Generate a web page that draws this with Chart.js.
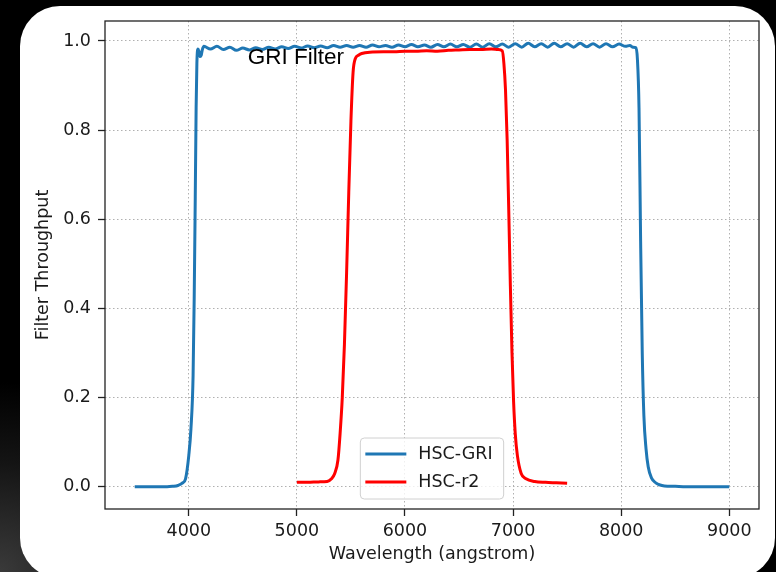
<!DOCTYPE html>
<html>
<head>
<meta charset="utf-8">
<script src="https://cdn.jsdelivr.net/npm/chart.js@4.4.1/dist/chart.umd.min.js"></script>
<style>
html, body { margin: 0; padding: 0; width: 776px; height: 572px; overflow: hidden; }
body { position: relative; background: radial-gradient(circle at 0 100%, #3a3a3a 0px, #141414 110px, #000 190px); }
#card { position: absolute; left: 20px; top: 6px; width: 755px; height: 572px; background: #fff; border-radius: 40px; }
#myChart { position: absolute; left: 0; top: 0; }
</style>
</head>
<body>
<div id="card"></div>
<canvas id="myChart" width="776" height="572"></canvas>
<script>
// HSC-GRI filter curve (wavelength in angstrom, throughput)
const griWave = [3500, 3600, 3700, 3800, 3850, 3900, 3940, 3970, 4000, 4020, 4040, 4050, 4060, 4068, 4075, 4085, 4095, 4105, 4115, 4125,
	4140, 4200, 4260, 4320, 4380, 4440, 4500, 4560, 4620, 4680, 4740, 4800, 4860, 4920, 4980, 5040, 5100, 5160, 5220, 5280,
	5340, 5400, 5460, 5520, 5580, 5640, 5700, 5760, 5820, 5880, 5940, 6000, 6060, 6120, 6180, 6240, 6300, 6360, 6420, 6480,
	6540, 6600, 6660, 6720, 6780, 6840, 6900, 6960, 7020, 7080, 7140, 7200, 7260, 7320, 7380, 7440, 7500, 7560, 7620, 7680,
	7740, 7800, 7860, 7920, 7980, 8040, 8080, 8110, 8135,
	8150, 8165, 8180, 8195, 8210, 8230, 8250, 8280, 8320, 8360, 8400, 8500, 8600, 8700, 8800, 8900, 9000]
const griThru = [0, 0, 0, 0, 0.001, 0.003, 0.008, 0.018, 0.07, 0.13, 0.25, 0.42, 0.65, 0.85, 0.95, 0.982, 0.976, 0.965, 0.968, 0.98,
	0.988, 0.982, 0.988, 0.981, 0.986, 0.979, 0.984, 0.98, 0.985, 0.981, 0.986, 0.982, 0.987, 0.983, 0.988, 0.984, 0.989, 0.985, 0.989, 0.985,
	0.99, 0.986, 0.99, 0.986, 0.99, 0.986, 0.991, 0.987, 0.99, 0.986, 0.991, 0.987, 0.992, 0.987, 0.991, 0.986, 0.992, 0.987, 0.993, 0.987,
	0.992, 0.986, 0.993, 0.986, 0.994, 0.987, 0.993, 0.986, 0.994, 0.986, 0.995, 0.987, 0.994, 0.986, 0.995, 0.987, 0.994, 0.986, 0.995, 0.987,
	0.994, 0.986, 0.994, 0.987, 0.993, 0.988, 0.99, 0.986, 0.985,
	0.96, 0.85, 0.55, 0.3, 0.16, 0.085, 0.045, 0.02, 0.009, 0.004, 0.002, 0.001, 0, 0, 0, 0, 0]

// HSC-r2 filter curve
const r2Wave = [5000, 5100, 5200, 5280, 5320, 5350, 5380, 5400, 5420, 5440, 5460, 5480, 5500, 5520, 5540, 5570, 5600, 5700, 5800, 5900, 6000,
	6100, 6200, 6300, 6400, 6500, 6600, 6700, 6800, 6860, 6900, 6915, 6930, 6945, 6960, 6975, 6990, 7005, 7020, 7040, 7075,
	7120, 7200, 7300, 7400, 7500]
const r2Thru = [0.01, 0.01, 0.011, 0.012, 0.018, 0.03, 0.06, 0.12, 0.2, 0.32, 0.48, 0.66, 0.82, 0.93, 0.96, 0.968, 0.972, 0.975, 0.976, 0.976, 0.977,
	0.977, 0.978, 0.977, 0.979, 0.98, 0.981, 0.981, 0.982, 0.981, 0.978, 0.95, 0.89, 0.78, 0.62, 0.45, 0.3, 0.19, 0.12, 0.07, 0.03,
	0.018, 0.012, 0.01, 0.009, 0.008]

const seriesLabels = ["HSC-GRI", "HSC-r2"]
const xTicks = [4000, 5000, 6000, 7000, 8000, 9000]
const yTicks = [0, 0.2, 0.4, 0.6, 0.8, 1.0]
const noteText = "GRI Filter"
const noteX = 4545
const noteY = 0.948

const tickFont = { family: "DejaVu Sans", size: 17.5 }
const ink = "#1a1a1a"

// frame, text note and legend box drawn on top of the lines
const overlay = {
	id: "overlay",
	afterDatasetsDraw: chart => {
		const ctx = chart.ctx
		const { left, top, right, bottom } = chart.chartArea
		const xs = chart.scales.x
		const ys = chart.scales.y
		ctx.save()
		ctx.strokeStyle = "#222"
		ctx.lineWidth = 1.3
		ctx.strokeRect(left, top, right - left, bottom - top)

		ctx.fillStyle = "#000"
		ctx.font = '22.5px "Liberation Sans"'
		ctx.textBaseline = "alphabetic"
		ctx.textAlign = "left"
		ctx.fillText(noteText, xs.getPixelForValue(noteX), ys.getPixelForValue(noteY))

		// legend, lower center
		ctx.font = '17.5px "DejaVu Sans"'
		const sets = chart.data.datasets
		const textW = Math.max(...sets.map(d => ctx.measureText(d.label).width))
		const w = 5 + 41 + 12 + textW + 11
		const h = 61
		const bx = (left + right) / 2 - w / 2
		const by = bottom - 10 - h
		ctx.beginPath()
		ctx.roundRect(bx, by, w, h, 4)
		ctx.fillStyle = "rgba(255,255,255,0.8)"
		ctx.fill()
		ctx.strokeStyle = "#d0d0d0"
		ctx.lineWidth = 1
		ctx.stroke()
		sets.forEach((d, i) => {
			const ry = by + 16 + i * 28
			ctx.beginPath()
			ctx.moveTo(bx + 5, ry)
			ctx.lineTo(bx + 46, ry)
			ctx.strokeStyle = d.borderColor
			ctx.lineWidth = 3
			ctx.stroke()
			ctx.fillStyle = ink
			ctx.textBaseline = "middle"
			ctx.fillText(d.label, bx + 58, ry)
		})
		ctx.restore()
	},
}

const chart = document.querySelector("#myChart").getContext("2d")

const myChart = new Chart(chart, {
	type: "line",
	data: {
		datasets: [
			{
				label: seriesLabels[0],
				data: griWave.map((w, i) => ({ x: w, y: griThru[i] })),
				borderColor: "#1f77b4",
				borderWidth: 3,
				pointRadius: 0,
				cubicInterpolationMode: "monotone",
				order: 1,
			},
			{
				label: seriesLabels[1],
				data: r2Wave.map((w, i) => ({ x: w, y: r2Thru[i] })),
				borderColor: "#ff0000",
				borderWidth: 3,
				pointRadius: 0,
				cubicInterpolationMode: "monotone",
				order: 0,
			},
		],
	},
	options: {
		responsive: false,
		animation: false,
		devicePixelRatio: 1,
		layout: { padding: { top: 21, right: 17, left: 0, bottom: 0 } },
		plugins: {
			legend: { display: false },
			tooltip: { enabled: false },
		},
		scales: {
			x: {
				type: "linear",
				min: 3225,
				max: 9275,
				afterBuildTicks: s => { s.ticks = xTicks.map(v => ({ value: v })) },
				afterFit: s => { s.height = 63 },
				ticks: { font: tickFont, color: ink, padding: 5, maxRotation: 0, callback: v => String(v) },
				grid: { color: "#b0b0b0", lineWidth: 1, tickLength: 7, tickColor: "#222", tickWidth: 1.3 },
				border: { display: false, dash: [1.5, 2.5] },
				title: { display: true, text: "Wavelength (angstrom)", font: tickFont, color: ink, padding: { top: 0, bottom: 7.5 } },
			},
			y: {
				type: "linear",
				min: -0.0498,
				max: 1.0448,
				afterBuildTicks: s => { s.ticks = yTicks.map(v => ({ value: v })) },
				afterFit: s => { s.width = 105 },
				ticks: { font: tickFont, color: ink, padding: 7, callback: v => v.toFixed(1) },
				grid: { color: "#b0b0b0", lineWidth: 1, tickLength: 7, tickColor: "#222", tickWidth: 1.3 },
				border: { display: false, dash: [1.5, 2.5] },
				title: { display: true, text: "Filter Throughput", font: tickFont, color: ink, padding: { top: 33, bottom: 0 } },
			},
		},
	},
	plugins: [overlay],
})
</script>
</body>
</html>
